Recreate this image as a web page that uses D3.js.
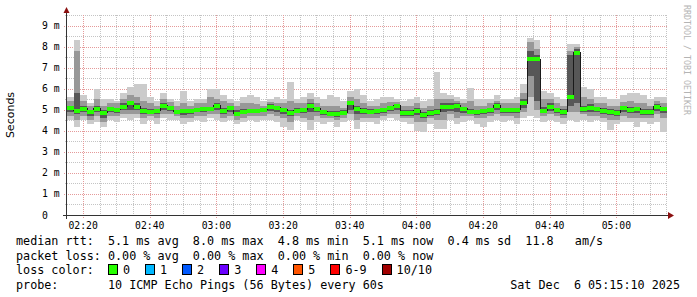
<!DOCTYPE html>
<html><head><meta charset="utf-8">
<script src="https://cdn.jsdelivr.net/npm/d3@7"></script>
<style>
body{margin:0;background:#fff}
svg{display:block}
text{white-space:pre}
</style>
</head><body>
<svg id="c" width="697" height="297" xml:space="preserve"></svg>
<script>
// ---------------- data (milliseconds) ----------------
const startTime = "2025-12-06T02:15:10";
const endTime = "2025-12-06T05:15:10";
const stepSeconds = 120;

const median = [5.1,4.95,5.05,4.9,5.05,4.85,5.05,5.0,5.15,5.3,5.15,4.95,4.9,4.95,5.2,5.1,4.9,4.95,4.95,5.0,5.05,5.05,5.2,
  4.95,5.1,4.8,4.9,4.95,4.95,5.0,5.15,5.1,5.0,4.85,4.95,5.0,5.2,5.05,4.9,4.8,4.8,4.85,5.3,5.05,
  4.95,4.9,4.95,5.0,5.1,5.2,4.85,4.85,4.95,4.75,4.85,4.9,5.15,5.15,5.2,5.05,4.9,4.9,4.95,5.0,5.2,5.0,5.0,
  5.0,5.3,7.4,7.4,4.95,5.15,5.0,4.9,5.6,7.7,5.05,5.1,5.05,4.95,4.9,4.85,5.1,5.0,5.05,4.9,4.9,5.15,5.05];

const outerLo = [4.5,4.2,4.5,4.3,4.4,4.2,4.5,4.4,4.6,4.5,4.6,4.3,4.5,4.3,4.6,4.5,4.5,4.3,4.4,4.5,4.4,4.6,4.5,
  4.4,4.5,4.3,4.4,4.5,4.4,4.5,4.5,4.4,4.2,4.05,4.5,4.4,4.05,4.4,4.3,4.4,4.2,4.4,4.5,4.1,
  4.4,4.4,4.3,4.5,4.6,4.5,4.4,4.3,4.0,3.95,4.3,4.1,4.1,4.5,4.3,4.4,4.5,4.3,4.2,4.4,4.5,4.4,4.5,
  4.3,4.6,4.7,4.6,4.4,4.5,4.4,4.3,4.5,4.4,4.5,4.4,4.5,4.4,4.05,4.3,4.4,4.4,4.2,4.4,4.3,4.4,3.95];
const outerHi = [5.6,8.3,5.7,5.3,6.0,5.5,5.5,5.4,5.8,6.1,6.2,6.2,5.6,5.4,5.8,5.5,5.4,5.9,5.4,5.5,5.5,6.0,6.0,
  5.7,5.5,5.4,5.6,5.7,5.6,5.4,5.5,5.6,5.5,6.3,5.5,5.6,5.8,5.6,5.5,5.7,5.6,5.4,5.9,6.0,
  5.7,5.4,5.5,5.6,5.6,5.5,5.4,5.5,5.6,5.4,5.5,6.8,5.8,5.7,5.6,5.5,6.05,5.5,5.5,5.5,5.7,5.5,5.5,
  5.6,6.2,8.4,8.3,5.9,5.8,5.6,5.5,8.1,8.1,6.1,6.0,5.6,5.6,5.5,5.5,5.7,5.8,5.8,5.7,5.5,5.6,5.6];

const midLo = [4.7,4.5,4.7,4.5,4.7,4.4,4.7,4.7,4.8,4.8,4.8,4.6,4.7,4.6,4.8,4.8,4.7,4.6,4.6,4.7,4.7,4.8,4.8,
  4.6,4.7,4.5,4.6,4.7,4.7,4.7,4.8,4.7,4.6,4.4,4.7,4.6,4.5,4.7,4.6,4.6,4.5,4.6,4.8,4.5,
  4.6,4.6,4.6,4.7,4.8,4.8,4.6,4.6,4.4,4.4,4.6,4.5,4.5,4.8,4.6,4.7,4.7,4.6,4.6,4.7,4.8,4.7,4.7,
  4.6,4.9,5.6,5.0,4.7,4.8,4.7,4.6,4.9,4.9,4.8,4.7,4.7,4.6,4.5,4.5,4.7,4.6,4.6,4.6,4.6,4.8,4.6];
const midHi = [5.4,7.8,5.4,5.2,5.5,5.2,5.3,5.3,5.5,5.7,5.6,5.4,5.3,5.2,5.5,5.35,5.2,5.3,5.2,5.3,5.3,5.6,5.5,
  5.4,5.3,5.2,5.3,5.3,5.25,5.2,5.35,5.3,5.3,5.4,5.3,5.3,5.5,5.3,5.2,5.2,5.2,5.1,5.6,5.5,
  5.3,5.2,5.2,5.3,5.35,5.35,5.2,5.2,5.3,5.1,5.2,5.5,5.5,5.5,5.4,5.3,5.4,5.2,5.2,5.3,5.4,5.3,5.3,
  5.3,5.8,8.2,7.9,5.5,5.5,5.3,5.2,7.8,8.0,5.6,5.5,5.3,5.3,5.2,5.2,5.35,5.4,5.3,5.3,5.2,5.4,5.3];

const innerLo = [4.9,4.8,4.9,4.7,4.9,4.6,4.9,4.85,5.0,5.0,5.0,4.8,4.8,4.8,5.0,4.95,4.8,4.75,4.8,4.9,4.9,4.95,5.0,
  4.8,4.9,4.7,4.8,4.85,4.85,4.9,4.95,4.9,4.8,4.7,4.85,4.85,4.9,4.9,4.75,4.7,4.65,4.75,5.0,4.8,
  4.8,4.8,4.8,4.85,4.95,5.0,4.7,4.7,4.75,4.6,4.7,4.75,4.9,4.95,4.9,4.85,4.8,4.75,4.8,4.85,5.0,4.85,4.85,
  4.85,5.1,6.6,5.4,4.85,4.95,4.85,4.75,5.2,5.3,4.9,4.9,4.9,4.8,4.75,4.7,4.9,4.85,4.85,4.75,4.75,4.95,4.85];
const innerHi = [5.2,5.8,5.2,5.0,5.2,5.0,5.15,5.1,5.3,5.4,5.3,5.1,5.05,5.05,5.3,5.2,5.0,5.05,5.05,5.1,5.15,5.15,5.3,
  5.1,5.2,5.0,5.05,5.05,5.05,5.1,5.25,5.2,5.1,5.0,5.1,5.1,5.3,5.15,5.0,4.95,4.95,5.0,5.4,5.2,
  5.1,5.05,5.05,5.1,5.2,5.25,5.0,5.0,5.1,4.9,5.0,5.05,5.3,5.3,5.3,5.15,5.05,5.0,5.05,5.1,5.3,5.1,5.1,
  5.1,5.5,7.8,7.6,5.15,5.3,5.1,5.05,7.6,7.9,5.2,5.25,5.15,5.1,5.05,5.0,5.2,5.15,5.15,5.05,5.05,5.25,5.15];

const yTickValues = [0,1,2,3,4,5,6,7,8,9];
const yTickLabels = ["0","1 m","2 m","3 m","4 m","5 m","6 m","7 m","8 m","9 m"];
const yMax = 9.5;
const xTickLabels = ["02:20","02:40","03:00","03:20","03:40","04:00","04:20","04:40","05:00"];

const lossLabels = ["0","1","2","3","4","5","6-9","10/10"];
const lossColors = ["#26ff00","#00b8ff","#0059ff","#6a00ff","#ff00ff","#ff5500","#ff0000","#a10000"];

const legendRtt = "median rtt:  5.1 ms avg  8.0 ms max  4.8 ms min  5.1 ms now  0.4 ms sd  11.8   am/s";
const legendLoss = "packet loss: 0.00 % avg  0.00 % max  0.00 % min  0.00 % now";
const legendColorTitle = "loss color:";
const legendProbe = "probe:       10 ICMP Echo Pings (56 Bytes) every 60s";
const legendDate = "Sat Dec  6 05:15:10 2025";
const yTitle = "Seconds";
const watermark = "RRDTOOL / TOBI OETIKER";

// ---------------- drawing ----------------
(function () {
const svg = d3.select("#c");
const W = 697, H = 297;
const pL = 67, pR = 667, pT = 15, pB = 215;
const mono = "'DejaVu Sans Mono', monospace";

const parse = d3.timeParse("%Y-%m-%dT%H:%M:%S");
const t0 = parse(startTime), t1 = parse(endTime);
const x = d3.scaleTime().domain([t0, t1]).range([pL, pR]);
const y = d3.scaleLinear().domain([0, yMax]).range([pB, pT]);

svg.append("rect").attr("width", W).attr("height", H).attr("fill", "#fff");

const pts = median.map((m, i) => ({
  t: new Date(t0.getTime() + i * stepSeconds * 1000),
  t2: new Date(t0.getTime() + (i + 1) * stepSeconds * 1000),
  m, oL: outerLo[i], oH: outerHi[i], mL: midLo[i], mH: midHi[i], iL: innerLo[i], iH: innerHi[i]
}));
const ext = pts.concat([Object.assign({}, pts[pts.length - 1], {t: pts[pts.length - 1].t2})]);

// grid
const gGrid = svg.append("g").attr("shape-rendering", "crispEdges");
const minorX = d3.timeMinute.every(5).range(d3.timeMinute.offset(t0, 1), d3.timeMinute.offset(t1, 1));
const majorX = d3.timeMinute.every(20).range(d3.timeMinute.offset(t0, 1), t1);
gGrid.selectAll(".vx").data(minorX.filter(d => d.getMinutes() % 20 !== 0)).enter().append("line")
  .attr("x1", d => Math.round(x(d)) + 0.5).attr("x2", d => Math.round(x(d)) + 0.5)
  .attr("y1", pT).attr("y2", pB + 2)
  .attr("stroke", "#c4c4c4").attr("stroke-dasharray", "1,1");
const minorY = d3.range(1, 2 * yMax + 1, 2).map(v => v / 2);
gGrid.selectAll(".hy").data(minorY).enter().append("line")
  .attr("y1", d => Math.round(y(d)) + 0.5).attr("y2", d => Math.round(y(d)) + 0.5)
  .attr("x1", pL - 2).attr("x2", pR)
  .attr("stroke", "#c4c4c4").attr("stroke-dasharray", "1,1");
gGrid.selectAll(".vX").data(majorX).enter().append("line")
  .attr("x1", d => Math.round(x(d)) + 0.5).attr("x2", d => Math.round(x(d)) + 0.5)
  .attr("y1", pT).attr("y2", pB + 3)
  .attr("stroke", "#e59a9a").attr("stroke-dasharray", "1,1");
gGrid.selectAll(".hY").data(yTickValues.slice(1)).enter().append("line")
  .attr("y1", d => Math.round(y(d)) + 0.5).attr("y2", d => Math.round(y(d)) + 0.5)
  .attr("x1", pL - 3).attr("x2", pR)
  .attr("stroke", "#e59a9a").attr("stroke-dasharray", "1,1");

// smoke bands
const band = (lo, hi) => d3.area().curve(d3.curveStepAfter)
  .x(d => x(d.t)).y0(d => y(d[lo])).y1(d => y(d[hi]));
const gData = svg.append("g").attr("shape-rendering", "crispEdges");
gData.append("path").datum(ext).attr("d", band("oL", "oH")).attr("fill", "#cbcbcb");
gData.append("path").datum(ext).attr("d", band("mL", "mH")).attr("fill", "#989898");
gData.append("path").datum(ext).attr("d", band("iL", "iH")).attr("fill", "#575757");

// median dark line and loss-colour blocks
gData.append("path").datum(ext)
  .attr("d", d3.line().curve(d3.curveStepAfter).x(d => x(d.t)).y(d => y(d.m)))
  .attr("fill", "none").attr("stroke", "#1a1a1a").attr("stroke-width", 1);
gData.selectAll(".med").data(pts).enter().append("rect")
  .attr("x", d => x(d.t)).attr("width", d => x(d.t2) - x(d.t))
  .attr("y", d => y(d.m) - 2).attr("height", 4)
  .attr("fill", lossColors[0]);

// axes
const axisColor = "#333";
const arrowColor = "#8b1010";
svg.append("line").attr("x1", pL - 4).attr("x2", pR + 2).attr("y1", pB + 0.5).attr("y2", pB + 0.5)
  .attr("stroke", axisColor).attr("shape-rendering", "crispEdges");
svg.append("line").attr("x1", pL - 0.5).attr("x2", pL - 0.5).attr("y1", pB + 4).attr("y2", pT - 3)
  .attr("stroke", axisColor).attr("shape-rendering", "crispEdges");
svg.append("path").attr("d", `M${pR + 1},${pB - 3}L${pR + 7},${pB + 0.5}L${pR + 1},${pB + 4}Z`).attr("fill", arrowColor);
svg.append("path").attr("d", `M${pL - 3.5},${pT - 2}L${pL - 0.5},${pT - 8}L${pL + 2.5},${pT - 2}Z`).attr("fill", arrowColor);

// y tick labels
svg.selectAll(".yl").data(yTickValues).enter().append("text")
  .attr("x", 42).attr("y", d => y(d) + 3.5)
  .attr("font-family", mono).attr("font-size", "9.75px").attr("fill", "#000")
  .text((d, i) => yTickLabels[i]);

// x tick labels
svg.selectAll(".xl").data(majorX).enter().append("text")
  .attr("x", d => x(d)).attr("y", 228.5).attr("text-anchor", "middle")
  .attr("font-family", mono).attr("font-size", "9.75px").attr("fill", "#000")
  .text((d, i) => xTickLabels[i]);

// y title
svg.append("text").attr("transform", `translate(14,${(pT + pB) / 2}) rotate(-90)`)
  .attr("text-anchor", "middle").attr("font-family", "'DejaVu Sans', sans-serif").attr("font-size", "11px")
  .attr("fill", "#000").text(yTitle);

// watermark
svg.append("text").attr("transform", "translate(684,5) rotate(90)")
  .attr("font-family", mono).attr("font-size", "8.3px").attr("fill", "#b4b4b4").text(watermark);

// legend
const lf = "11.75px";
const cw = 11.75 * 0.602;
const lx = 16;
const rows = [245, 260, 274, 289];
const txt = (s, xx, yy, anchor) => svg.append("text").attr("x", xx).attr("y", yy)
  .attr("text-anchor", anchor || "start").attr("font-family", mono).attr("font-size", lf)
  .attr("fill", "#000").attr("xml:space", "preserve").text(s);
txt(legendRtt, lx, rows[0]);
txt(legendLoss, lx, rows[1]);
txt(legendColorTitle, lx, rows[2]);
txt(legendProbe, lx, rows[3]);
txt(legendDate, 680, rows[3], "end");

let bx = lx + 13 * cw;
lossLabels.forEach((lab, i) => {
  svg.append("rect").attr("x", bx + 0.5).attr("y", rows[2] - 9.5).attr("width", 9).attr("height", 10)
    .attr("fill", lossColors[i]).attr("stroke", "#000").attr("stroke-width", 1).attr("shape-rendering", "crispEdges");
  txt(lab, bx + 15, rows[2]);
  bx += 30 + cw * lab.length;
});
})();
</script>
</body></html>
